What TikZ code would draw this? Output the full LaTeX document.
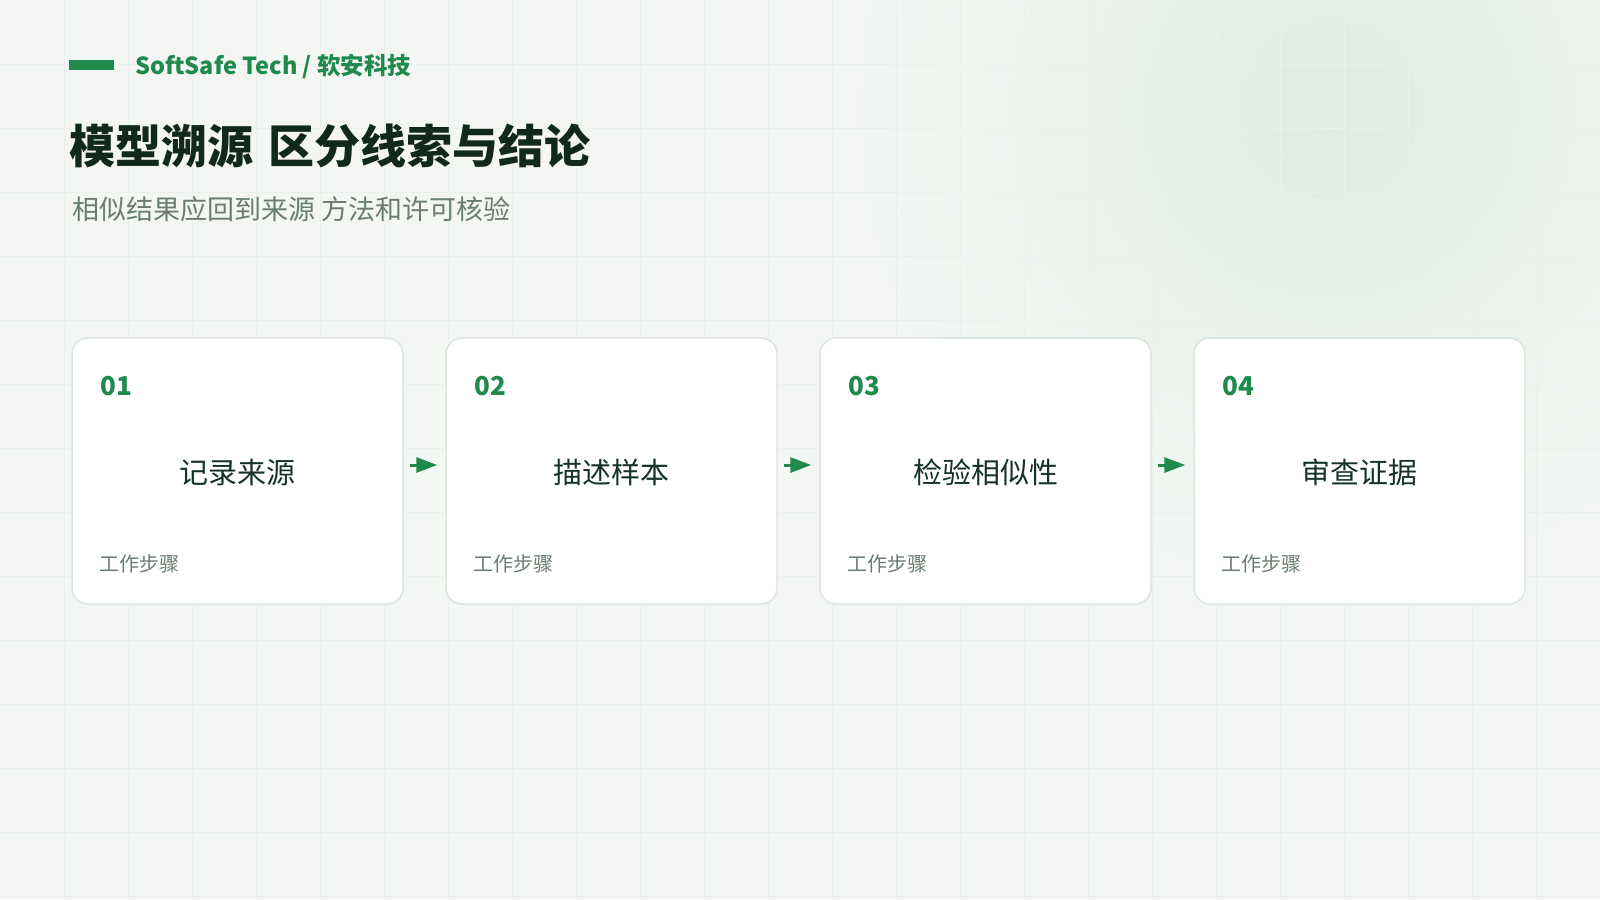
\documentclass[tikz,border=0pt]{standalone}
\usepackage{fontspec}
\setmainfont{Noto Sans CJK SC}
\usetikzlibrary{arrows.meta,calc}
\definecolor{bg}{HTML}{F3F6F3}
\definecolor{glow}{HTML}{E0EDE2}
\definecolor{gridc}{HTML}{EAF0EB}
\definecolor{brand}{HTML}{1F8A4C}
\definecolor{titlec}{HTML}{10291C}
\definecolor{subc}{HTML}{6A7D70}
\definecolor{bodyc}{HTML}{163326}
\definecolor{cardborder}{HTML}{DCE5DE}
\tikzset{
  card/.style={draw=cardborder, line width=1.5pt, fill=white, rounded corners=16pt,
    minimum width=331pt, minimum height=266pt, inner sep=0pt},
  numtxt/.style={anchor=west, inner sep=0pt, text=brand, font=\fontsize{26}{26}\selectfont\bfseries},
  midtxt/.style={anchor=center, inner sep=0pt, text=bodyc, font=\fontsize{29}{29}\selectfont},
  steptxt/.style={anchor=west, inner sep=0pt, text=subc, font=\fontsize{20}{20}\selectfont},
  flow/.style={draw=brand, line width=3pt, -{Triangle[length=21pt,width=15pt]}, shorten <=6pt, shorten >=8pt}
}
\begin{document}
\begin{tikzpicture}[x=1pt,y=-1pt]
\useasboundingbox (0,0) rectangle (1600,900);
\fill[bg] (0,0) rectangle (1600,900);
\begin{scope}
\clip (0,0) rectangle (1600,900);
\shade[inner color=glow, outer color=bg] (1330,110) circle (480);
\end{scope}
\foreach \gx in {64,128,...,1599} \draw[gridc, line width=1pt] (\gx,0) -- (\gx,900);
\foreach \gy in {64,128,...,899} \draw[gridc, line width=1pt] (0,\gy) -- (1600,\gy);
% header
\fill[brand] (69,60) rectangle (114,70);
\node[anchor=west, inner sep=0pt, text=brand, font=\fontsize{23.5}{23.5}\selectfont\bfseries] (brandtxt) at (135,67) {SoftSafe Tech / 软安科技};
\node[anchor=west, inner sep=0pt, text=titlec, font=\fontsize{46}{46}\selectfont\bfseries] (title) at (69,146) {模型溯源\hspace{0.1em} 区分线索与结论};
\node[anchor=west, inner sep=0pt, text=subc, font=\fontsize{27}{27}\selectfont] (subtitle) at (72,209) {相似结果应回到来源 方法和许可核验};
% cards
\foreach \i/\num/\txt in {1/01/记录来源,2/02/描述样本,3/03/检验相似性,4/04/审查证据}{
  \node[card] (c\i) at ({237.5+374*(\i-1)},471) {};
  \node[numtxt] (n\i) at ({100+374*(\i-1)},386) {\num};
  \node[midtxt] (m\i) at ({237.5+374*(\i-1)},472) {\txt};
  \node[steptxt] (s\i) at ({99+374*(\i-1)},564) {工作步骤};
}
\foreach \a/\b in {1/2,2/3,3/4}
  \draw[flow] ([yshift=6pt]c\a.east) -- ([yshift=6pt]c\b.west);
\end{tikzpicture}
\end{document}
